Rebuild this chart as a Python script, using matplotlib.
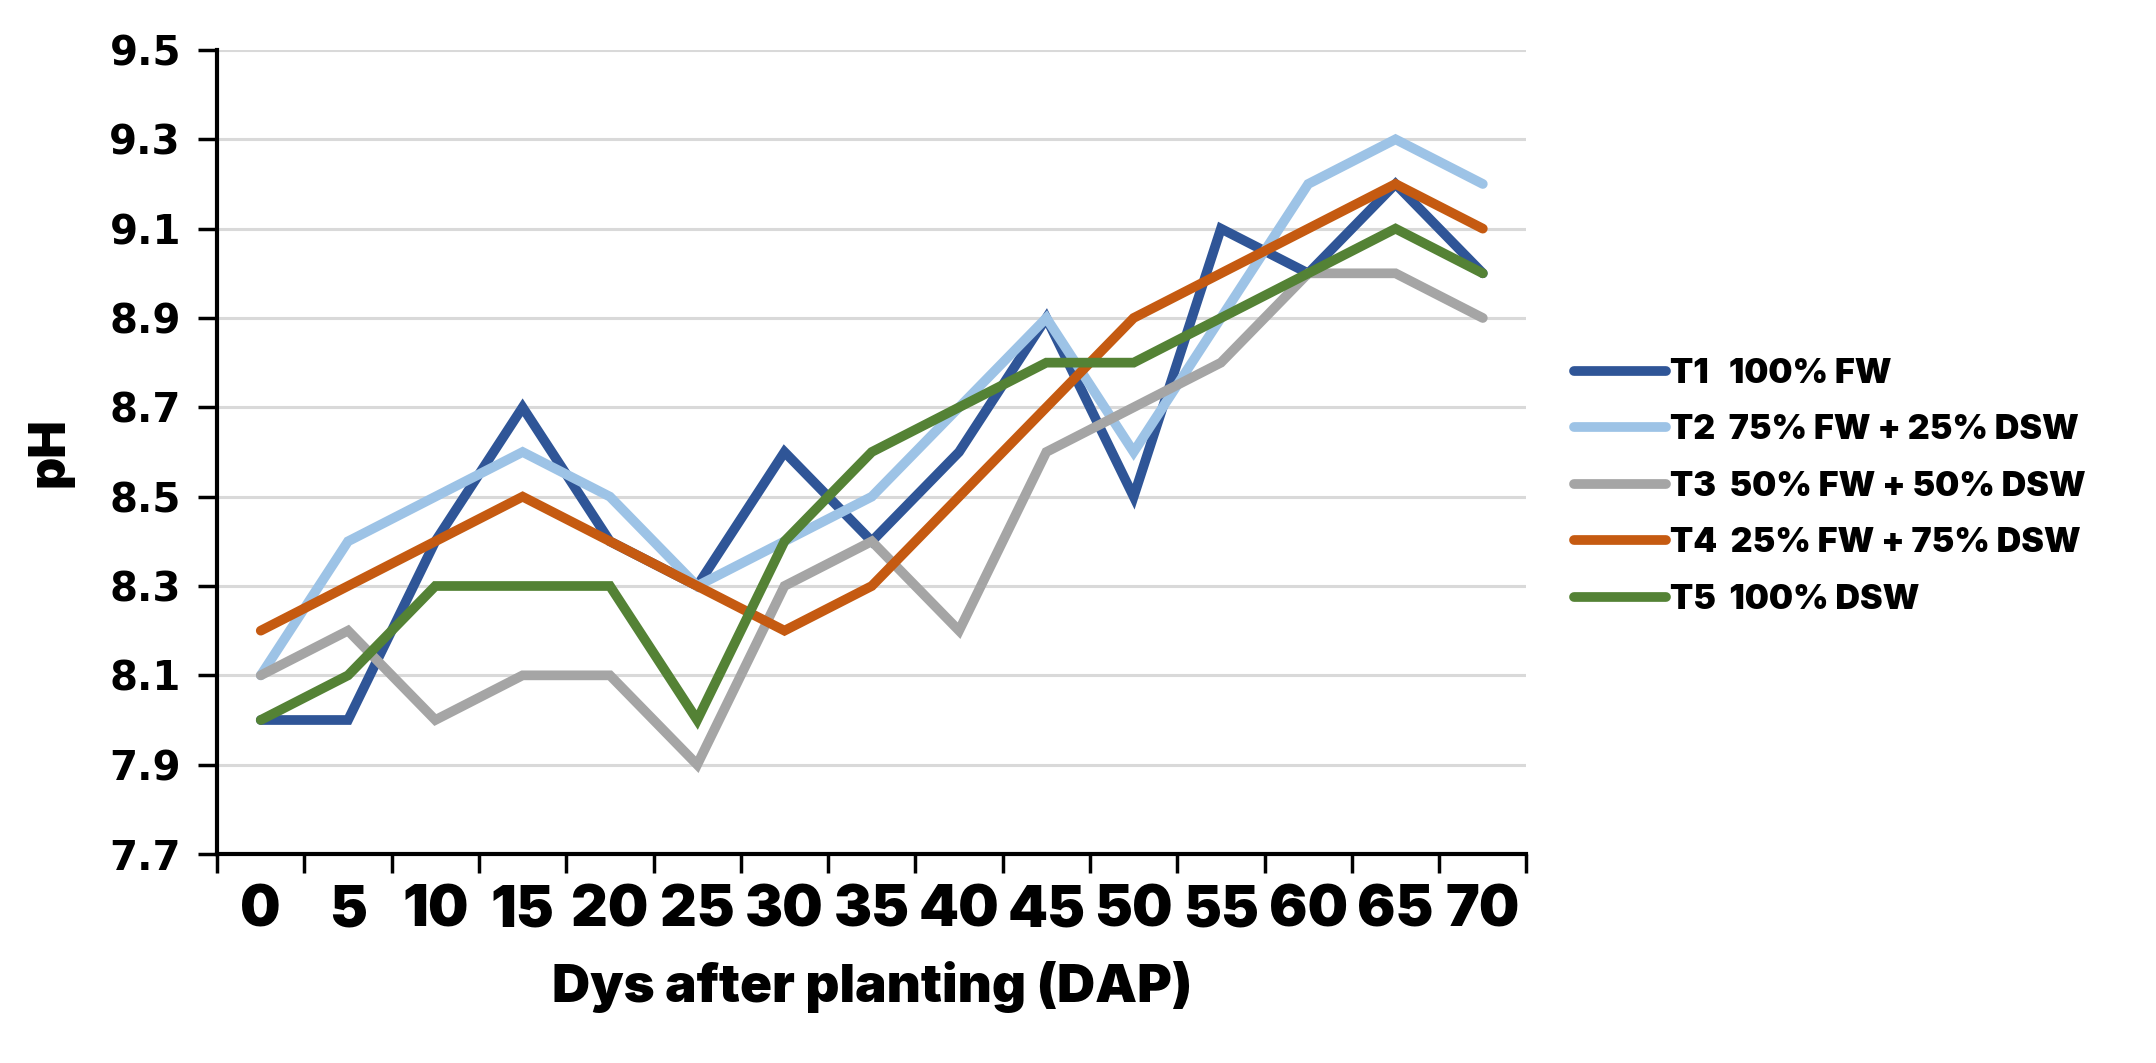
import numpy as np
import matplotlib.pyplot as plt
from matplotlib.ticker import FixedLocator

# Days after planting (categories)
days = [0, 5, 10, 15, 20, 25, 30, 35, 40, 45, 50, 55, 60, 65, 70]

# pH
t1 = [8.0, 8.0, 8.4, 8.7, 8.4, 8.3, 8.6, 8.4, 8.6, 8.9, 8.5, 9.1, 9.0, 9.2, 9.0]
t2 = [8.1, 8.4, 8.5, 8.6, 8.5, 8.3, 8.4, 8.5, 8.7, 8.9, 8.6, 8.9, 9.2, 9.3, 9.2]
t3 = [8.1, 8.2, 8.0, 8.1, 8.1, 7.9, 8.3, 8.4, 8.2, 8.6, 8.7, 8.8, 9.0, 9.0, 8.9]
t4 = [8.2, 8.3, 8.4, 8.5, 8.4, 8.3, 8.2, 8.3, 8.5, 8.7, 8.9, 9.0, 9.1, 9.2, 9.1]
t5 = [8.0, 8.1, 8.3, 8.3, 8.3, 8.0, 8.4, 8.6, 8.7, 8.8, 8.8, 8.9, 9.0, 9.1, 9.0]

labels = ['T1   100% FW', 'T2  75% FW + 25% DSW', 'T3  50% FW + 50% DSW',
          'T4  25% FW + 75% DSW', 'T5  100% DSW']
colors = ['#2F5597', '#9DC3E6', '#A5A5A5', '#C55A11', '#548235']
yticks = [7.7, 7.9, 8.1, 8.3, 8.5, 8.7, 8.9, 9.1, 9.3, 9.5]

plt.rcParams['font.family'] = ['Inter', 'DejaVu Sans']

fig = plt.figure(figsize=(21.56, 10.63), dpi=100)
ax = fig.add_axes([0.1007, 0.1966, 0.6073, 0.7564])

x = np.arange(len(days))
for series, lab, col in zip([t1, t2, t3, t4, t5], labels, colors):
    ax.plot(x, series, color=col, linewidth=7, label=lab, solid_capstyle='round',
            solid_joinstyle='miter')

ax.set_xlim(-0.5, len(days) - 0.5)
ax.set_ylim(7.7, 9.5)
ax.set_yticks(yticks)
ax.set_yticklabels([f'{v:.1f}' for v in yticks], fontsize=29, fontweight='black',
                   family=['DejaVu Sans'])
ax.yaxis.grid(True, color='#D9D9D9', linewidth=2.2)
ax.set_axisbelow(True)

ax.set_xticks(x)
ax.set_xticklabels([str(d) for d in days], fontsize=41, fontweight='black')
ax.tick_params(axis='x', which='major', length=0, pad=22)
ax.xaxis.set_minor_locator(FixedLocator(np.arange(-0.5, len(days), 1.0)))
ax.tick_params(axis='x', which='minor', length=14, width=2.5, direction='out')
ax.tick_params(axis='y', length=14, width=2.5, direction='out', pad=12)

for side in ['top', 'right']:
    ax.spines[side].set_visible(False)
ax.spines['left'].set_linewidth(3)
ax.spines['bottom'].set_linewidth(3)

ax.set_ylabel('pH', fontsize=36, fontweight='black', labelpad=26)
ax.set_xlabel('Dys after planting (DAP)', fontsize=38, fontweight='black', labelpad=16)

fig.legend(loc='center left', bbox_to_anchor=(0.716, 0.542), frameon=False,
           prop={'size': 24.5, 'weight': 'black'}, handlelength=2.7,
           handletextpad=0.1, labelspacing=0.72)

fig.savefig('out.png', dpi=100)
